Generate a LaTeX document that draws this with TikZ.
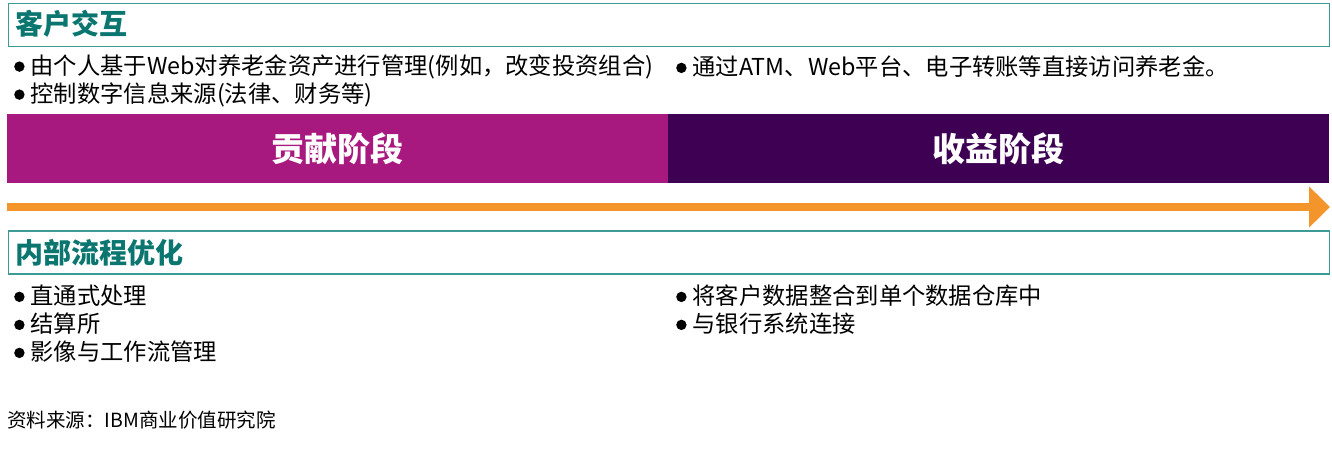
\documentclass[tikz,border=0pt]{standalone}
\usepackage{fontspec}
\setmainfont{Noto Sans CJK SC}
\usetikzlibrary{arrows.meta}
\definecolor{tealtitle}{HTML}{0B7670}
\definecolor{tealborder}{HTML}{3E9A94}
\definecolor{phaseA}{HTML}{A8197F}
\definecolor{phaseB}{HTML}{3D0052}
\definecolor{arroworange}{HTML}{F3952B}
\newcommand{\bul}{\tikz[baseline=-8pt]\fill[black] (0pt,0pt) circle (5.2pt);\hspace{6pt}}
\tikzset{
  secbox/.style={draw=tealborder, line width=1.5pt, fill=white, minimum width=1321pt, minimum height=43pt, anchor=north west, inner sep=0pt},
  sectitle/.style={anchor=west, inner sep=0pt, text=tealtitle, font=\fontsize{28pt}{32pt}\selectfont\bfseries},
  item/.style={anchor=west, inner sep=0pt, font=\fontsize{23.3pt}{27pt}\selectfont},
  phase/.style={minimum width=661pt, minimum height=69pt, anchor=north west, inner sep=0pt, text=white, font=\fontsize{33pt}{38pt}\selectfont\bfseries},
  source/.style={anchor=west, inner sep=0pt, font=\fontsize{19.5pt}{23pt}\selectfont}
}
\begin{document}
\begin{tikzpicture}[x=1pt,y=-1pt]
\useasboundingbox (0,0) rectangle (1332,448);
% top section
\node[secbox] (topbox) at (7.5,2.5) {};
\node[sectitle] (toptitle) at (15,24) {客户交互};
\node[item] (t1) at (14,67) {\bul 由个人基于Web对养老金资产进行管理(例如，改变投资组合)};
\node[item] (t2) at (14,95) {\bul 控制数字信息来源(法律、财务等)};
\node[item] (t3) at (676,67) {\bul 通过ATM、Web平台、电子转账等直接访问养老金。};
% phases
\node[phase, fill=phaseA] (contrib) at (7,114) {贡献阶段};
\node[phase, fill=phaseB] (benefit) at (668,114) {收益阶段};
% arrow
\coordinate (arrS) at (7,207);
\coordinate (arrE) at (1330,207);
\draw[arroworange, line width=8pt, -{Triangle[length=21pt,width=40pt]}] (arrS) -- (arrE);
% bottom section
\node[secbox] (botbox) at (7.5,230) {};
\node[sectitle] (bottitle) at (15,253) {内部流程优化};
\node[item] (b1) at (14,296) {\bul 直通式处理};
\node[item] (b2) at (14,324) {\bul 结算所};
\node[item] (b3) at (14,352) {\bul 影像与工作流管理};
\node[item] (b4) at (676,296) {\bul 将客户数据整合到单个数据仓库中};
\node[item] (b5) at (676,324) {\bul 与银行系统连接};
% source
\node[source] (src) at (7,420) {资料来源：IBM商业价值研究院};
\end{tikzpicture}
\end{document}
